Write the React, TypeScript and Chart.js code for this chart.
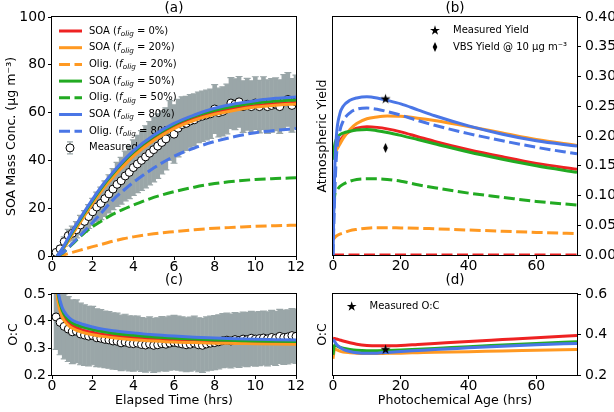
import React, { useEffect, useRef } from 'react';
import { Chart, registerables } from 'chart.js';

Chart.register(...registerables);

// ---------------- Panel (a): SOA mass vs elapsed time ----------------
const timeModel = [0.25, 0.5, 0.75, 1, 1.5, 2, 2.5, 3, 3.5, 4, 5, 6, 7, 8, 9, 10, 11, 12];
const soa0 = [0, 2.8, 6, 9.5, 16, 22.5, 28.5, 33.5, 38.5, 42.5, 49, 54, 57.5, 60, 61.8, 63, 63.8, 64.3];
const soa20 = [0, 2.3, 5.5, 9, 15.5, 22, 28, 33, 37.5, 41.8, 48.3, 53.3, 56.8, 59.3, 61, 62.3, 63.1, 63.6];
const olig20 = [0, 0.3, 0.9, 1.5, 2.7, 3.9, 5, 6.2, 7.2, 8, 9.3, 10.2, 11, 11.6, 12, 12.4, 12.7, 12.9];
const soa50 = [0, 2.8, 6.3, 10, 16.8, 23.3, 29.3, 34.5, 39.3, 43.5, 50, 55, 58.5, 61, 62.8, 64, 64.8, 65.3];
const olig50 = [0, 1, 3, 5, 9, 12.3, 15, 17.5, 19.5, 21.3, 24.5, 26.9, 28.8, 30.3, 31.3, 32, 32.4, 32.7];
const soa80 = [0, 3, 6.8, 10.5, 17.3, 23.8, 29.8, 35, 39.8, 44, 50.5, 55.5, 59, 61.8, 63.7, 65, 66, 66.5];
const olig80 = [0, 1.2, 3, 5.2, 9.5, 14, 18.7, 23.5, 27.3, 30.8, 36.8, 41.7, 45.2, 47.9, 50, 51.6, 52.6, 53.3];

const timeMeas = [0.2, 0.4, 0.6, 0.8, 1.0, 1.2, 1.4, 1.6, 1.8, 2.0, 2.2, 2.4, 2.6, 2.8, 3.0, 3.2, 3.4, 3.6, 3.8, 4.0,
  4.2, 4.4, 4.6, 4.8, 5.0, 5.2, 5.4, 5.6, 5.8, 6.0, 6.2, 6.4, 6.6, 6.8, 7.0, 7.2, 7.4, 7.6, 7.8, 8.0,
  8.2, 8.4, 8.6, 8.8, 9.0, 9.2, 9.4, 9.6, 9.8, 10.0, 10.2, 10.4, 10.6, 10.8, 11.0, 11.2, 11.4, 11.6, 11.8, 12.0];
const soaMeas = [1.5, 3, 6, 8.5, 9.5, 11, 13, 14.5, 16.5, 18.5, 20.5, 22, 24, 26, 28, 30, 31.5, 33.5, 35, 37,
  38.5, 40, 41.5, 43, 44.5, 46, 47.5, 49, 52.5, 51, 53.5, 55, 55.5, 56.5, 57, 58, 58.5, 59, 59.5, 61.5,
  60, 60.5, 61.5, 64, 63.5, 64.5, 62.5, 63.5, 62.5, 64, 62.5, 64, 62.5, 63, 63.5, 62.5, 64.5, 65.5, 63, 64.5];
const soaErr = [0.8, 1.2, 2, 2.6, 3, 3.4, 4, 4.5, 5, 5.6, 6.2, 6.8, 7.4, 8, 8.6, 9.2, 9.8, 10.4, 11, 11.6,
  12, 12.5, 13, 13.2, 13.5, 13.5, 13.2, 13, 12.5, 12.2, 12, 11.6, 11.3, 11, 10.8, 10.6, 10.5, 10.4, 10.3, 10.2,
  10.2, 10.3, 10.4, 10.6, 10.6, 10.6, 10.8, 10.8, 10.8, 11, 11, 11, 11.2, 11.2, 11, 11.2, 11.4, 11.2, 11.2, 11.2];

// ---------------- Panel (c): O:C vs elapsed time ----------------
const timeOC = [0.2, 0.3, 0.5, 0.75, 1, 1.5, 2, 2.5, 3, 4, 5, 6, 7, 8, 9, 10, 11, 12];
const oc0 = [0.55, 0.48, 0.425, 0.397, 0.382, 0.366, 0.357, 0.35, 0.345, 0.338, 0.333, 0.329, 0.326, 0.324, 0.322, 0.321, 0.32, 0.319];
const oc20 = [0.54, 0.47, 0.415, 0.388, 0.373, 0.358, 0.349, 0.343, 0.338, 0.331, 0.326, 0.322, 0.32, 0.318, 0.317, 0.316, 0.315, 0.314];
const oc50 = [0.57, 0.5, 0.44, 0.41, 0.393, 0.378, 0.368, 0.361, 0.355, 0.347, 0.341, 0.337, 0.333, 0.33, 0.328, 0.326, 0.325, 0.324];
const oc80 = [0.58, 0.51, 0.45, 0.42, 0.403, 0.388, 0.378, 0.37, 0.364, 0.356, 0.349, 0.344, 0.34, 0.337, 0.334, 0.332, 0.331, 0.33];
const ocMeas = [0.415, 0.395, 0.38, 0.37, 0.36, 0.362, 0.352, 0.348, 0.344, 0.346, 0.338, 0.336, 0.332, 0.33, 0.326, 0.325, 0.319, 0.322, 0.317, 0.316,
  0.318, 0.313, 0.311, 0.315, 0.31, 0.312, 0.316, 0.314, 0.318, 0.321, 0.318, 0.315, 0.312, 0.314, 0.318, 0.312, 0.31, 0.315, 0.318, 0.32,
  0.323, 0.327, 0.329, 0.326, 0.331, 0.328, 0.333, 0.331, 0.336, 0.333, 0.335, 0.337, 0.334, 0.339, 0.336, 0.343, 0.339, 0.341, 0.346, 0.343];
const ocErr = [0.12, 0.12, 0.12, 0.12, 0.118, 0.116, 0.114, 0.112, 0.11, 0.108, 0.107, 0.106, 0.105, 0.105, 0.104, 0.104, 0.103, 0.103, 0.102, 0.102,
  0.1, 0.1, 0.1, 0.1, 0.1, 0.1, 0.1, 0.1, 0.1, 0.1, 0.1, 0.1, 0.1, 0.1, 0.1, 0.1, 0.1, 0.1, 0.1, 0.1,
  0.1, 0.1, 0.1, 0.1, 0.1, 0.1, 0.1, 0.1, 0.1, 0.1, 0.1, 0.1, 0.1, 0.1, 0.1, 0.1, 0.1, 0.1, 0.1, 0.1];

// ---------------- Panel (b): atmospheric yield vs photochemical age ----------------
const ages = [0, 0.5, 1, 2, 3, 5, 7, 10, 13, 16, 20, 25, 30, 40, 50, 60, 72];
const yld0 = [0.18, 0.18, 0.183, 0.192, 0.199, 0.208, 0.213, 0.2155, 0.2145, 0.212, 0.207, 0.199, 0.191, 0.177, 0.165, 0.154, 0.144];
const yldOlig0 = [0, 0, 0, 0, 0, 0, 0, 0, 0, 0, 0, 0, 0, 0, 0, 0, 0];
const yld20 = [0.17, 0.172, 0.176, 0.186, 0.196, 0.211, 0.221, 0.229, 0.232, 0.2335, 0.233, 0.23, 0.226, 0.216, 0.205, 0.194, 0.184];
const yldOlig20 = [0.026, 0.029, 0.032, 0.035, 0.037, 0.041, 0.043, 0.045, 0.046, 0.046, 0.0455, 0.045, 0.044, 0.042, 0.04, 0.038, 0.036];
const yld50 = [0.16, 0.185, 0.195, 0.202, 0.205, 0.208, 0.21, 0.211, 0.209, 0.206, 0.201, 0.194, 0.187, 0.173, 0.161, 0.15, 0.139];
const yldOlig50 = [0.06, 0.1, 0.107, 0.115, 0.119, 0.124, 0.127, 0.128, 0.128, 0.127, 0.124, 0.118, 0.113, 0.104, 0.097, 0.09, 0.084];
const yld80 = [0, 0.14, 0.2, 0.237, 0.25, 0.26, 0.264, 0.266, 0.264, 0.26, 0.254, 0.244, 0.234, 0.217, 0.203, 0.192, 0.183];
const yldOlig80 = [0, 0.1, 0.165, 0.208, 0.225, 0.239, 0.245, 0.247, 0.245, 0.241, 0.235, 0.226, 0.218, 0.204, 0.192, 0.181, 0.17];
const measAge = [15.5];
const measYield = [0.262];
const vbsYield = [0.18];

// ---------------- Panel (d): O:C vs photochemical age ----------------
const ocAge0 = [0.382, 0.38, 0.378, 0.373, 0.368, 0.359, 0.352, 0.346, 0.344, 0.344, 0.346, 0.351, 0.356, 0.366, 0.375, 0.384, 0.395];
const ocAge20 = [0.28, 0.33, 0.325, 0.318, 0.314, 0.31, 0.307, 0.306, 0.306, 0.307, 0.308, 0.31, 0.312, 0.315, 0.319, 0.322, 0.326];
const ocAge50 = [0.3, 0.35, 0.345, 0.337, 0.332, 0.326, 0.322, 0.32, 0.32, 0.321, 0.323, 0.327, 0.331, 0.34, 0.348, 0.356, 0.364];
const ocAge80 = [0.375, 0.365, 0.352, 0.337, 0.327, 0.316, 0.31, 0.307, 0.308, 0.311, 0.316, 0.321, 0.326, 0.334, 0.342, 0.349, 0.356];
const measOC = [0.325];

// ---------------- styles ----------------
const FAM = '"DejaVu Sans", sans-serif';
const RED = '#ee2222';
const ORANGE = '#ff9922';
const GREEN = '#22aa22';
const BLUE = '#4a76e6';
const ERR_GRAY = '#9aa6a8';
const DASH = [11, 4.5];

Chart.defaults.font.family = FAM;
Chart.defaults.color = '#000';

const tickFont = { family: FAM, size: 14, lineHeight: 1 };
const titleFont = { family: FAM, size: 12.6, lineHeight: 1.2 };
const tickGrid = { display: true, drawOnChartArea: false, drawTicks: true, tickLength: 4, tickColor: '#000', lineWidth: 1 };

function pts(xs: number[], ys: number[]) {
  return xs.map((x, i) => ({ x, y: ys[i] }));
}

function lineDs(prefix: string, pct: number, xs: number[], ys: number[], color: string, dashed: boolean, order: number) {
  return {
    label: prefix, pct, dashedLine: dashed,
    data: pts(xs, ys), borderColor: color, backgroundColor: color, borderWidth: 3,
    borderDash: dashed ? DASH : [], pointRadius: 0, fill: false,
    cubicInterpolationMode: 'monotone', order,
  };
}

function measDs(xs: number[], ys: number[]) {
  return {
    label: 'Measured', data: pts(xs, ys), showLine: false, pointRadius: 4,
    pointBackgroundColor: '#ffffff', pointBorderColor: '#000000', pointBorderWidth: 1, order: 20,
  };
}

function starPath(ctx: CanvasRenderingContext2D, cx: number, cy: number, R: number) {
  ctx.beginPath();
  for (let i = 0; i < 10; i++) {
    const ang = -Math.PI / 2 + (i * Math.PI) / 5;
    const rad = i % 2 === 0 ? R : R * 0.382;
    const px = cx + rad * Math.cos(ang);
    const py = cy + rad * Math.sin(ang);
    if (i === 0) ctx.moveTo(px, py); else ctx.lineTo(px, py);
  }
  ctx.closePath();
}
function diamondPath(ctx: CanvasRenderingContext2D, cx: number, cy: number, hw: number, hh: number) {
  ctx.beginPath();
  ctx.moveTo(cx, cy - hh); ctx.lineTo(cx + hw, cy); ctx.lineTo(cx, cy + hh); ctx.lineTo(cx - hw, cy);
  ctx.closePath();
}
function makeStar(R: number) {
  const c = document.createElement('canvas');
  const s = Math.ceil(2 * R + 2);
  c.width = s; c.height = s;
  const ctx = c.getContext('2d')!;
  starPath(ctx, s / 2, s / 2, R);
  ctx.fillStyle = '#000'; ctx.fill();
  return c;
}
function makeDiamond(hw: number, hh: number) {
  const c = document.createElement('canvas');
  c.width = Math.ceil(2 * hw + 2); c.height = Math.ceil(2 * hh + 2);
  const ctx = c.getContext('2d')!;
  diamondPath(ctx, c.width / 2, c.height / 2, hw, hh);
  ctx.fillStyle = '#000'; ctx.fill();
  return c;
}

// ---------------- plugins ----------------
const framePlugin = {
  id: 'frame',
  afterDatasetsDraw(chart: any) {
    const { ctx, chartArea: a } = chart;
    ctx.save();
    ctx.strokeStyle = '#000'; ctx.lineWidth = 1;
    ctx.strokeRect(Math.round(a.left) - 0.5, Math.round(a.top) - 0.5, Math.round(a.right - a.left) + 1, Math.round(a.bottom - a.top) + 1);
    ctx.restore();
  },
};

function labelPlugin(text: string, y: number) {
  return {
    id: 'panelLabel',
    afterDraw(chart: any) {
      const { ctx, chartArea: a } = chart;
      ctx.save();
      ctx.font = `13.5px ${FAM}`; ctx.fillStyle = '#000';
      ctx.textAlign = 'center'; ctx.textBaseline = 'middle';
      ctx.fillText(text, (a.left + a.right) / 2, y);
      ctx.restore();
    },
  };
}

function errPlugin(xs: number[], ys: number[], es: number[]) {
  return {
    id: 'errbars',
    beforeDatasetsDraw(chart: any) {
      const { ctx, chartArea: a, scales } = chart;
      const sx = scales.x, sy = scales.y;
      ctx.save();
      ctx.beginPath(); ctx.rect(a.left, a.top, a.right - a.left, a.bottom - a.top); ctx.clip();
      ctx.strokeStyle = ERR_GRAY;
      for (let i = 0; i < xs.length; i++) {
        const px = sx.getPixelForValue(xs[i]);
        const yt = sy.getPixelForValue(ys[i] + es[i]);
        const yb = sy.getPixelForValue(ys[i] - es[i]);
        ctx.lineWidth = 4.6;
        ctx.beginPath(); ctx.moveTo(px, yt); ctx.lineTo(px, yb); ctx.stroke();
        ctx.lineWidth = 1.2;
        ctx.beginPath();
        ctx.moveTo(px - 3.5, yt); ctx.lineTo(px + 3.5, yt);
        ctx.moveTo(px - 3.5, yb); ctx.lineTo(px + 3.5, yb);
        ctx.stroke();
      }
      ctx.restore();
    },
  };
}

function drawFLabel(ctx: CanvasRenderingContext2D, x: number, y: number, prefix: string, pct: number) {
  ctx.fillStyle = '#000'; ctx.textAlign = 'left'; ctx.textBaseline = 'middle';
  let s = `${prefix} (`;
  ctx.font = `10px ${FAM}`; ctx.fillText(s, x, y); x += ctx.measureText(s).width;
  ctx.font = `italic 10px ${FAM}`; ctx.fillText('f', x, y); x += ctx.measureText('f').width + 0.3;
  ctx.font = `italic 7.2px ${FAM}`; ctx.fillText('olig', x, y + 3); x += ctx.measureText('olig').width;
  s = ` = ${pct}%)`;
  ctx.font = `10px ${FAM}`; ctx.fillText(s, x, y);
}

const legendAPlugin = {
  id: 'legendA',
  beforeDatasetsDraw(chart: any) {
    const { ctx } = chart;
    const x0 = 59, x1 = 82, tx = 89, y0 = 31, dy = 16.7;
    ctx.save();
    let row = 0;
    chart.data.datasets.forEach((ds: any) => {
      const y = y0 + row * dy;
      if (ds.label === 'Measured') {
        ctx.strokeStyle = ERR_GRAY; ctx.lineWidth = 1.2;
        ctx.beginPath();
        ctx.moveTo(70, y - 6); ctx.lineTo(70, y + 6);
        ctx.moveTo(67, y - 6); ctx.lineTo(73, y - 6);
        ctx.moveTo(67, y + 6); ctx.lineTo(73, y + 6);
        ctx.stroke();
        ctx.beginPath(); ctx.arc(70, y, 4, 0, Math.PI * 2);
        ctx.fillStyle = '#fff'; ctx.fill();
        ctx.strokeStyle = '#000'; ctx.lineWidth = 1; ctx.stroke();
        ctx.fillStyle = '#000'; ctx.font = `10px ${FAM}`; ctx.textAlign = 'left'; ctx.textBaseline = 'middle';
        ctx.fillText('Measured', tx, y);
      } else {
        ctx.strokeStyle = ds.borderColor; ctx.lineWidth = 3;
        ctx.setLineDash(ds.dashedLine ? DASH : []);
        ctx.beginPath(); ctx.moveTo(x0, y); ctx.lineTo(x1, y); ctx.stroke();
        ctx.setLineDash([]);
        drawFLabel(ctx, tx, y, ds.label, ds.pct);
      }
      row++;
    });
    ctx.restore();
  },
};

const legendBPlugin = {
  id: 'legendB',
  afterDraw(chart: any) {
    const { ctx } = chart;
    ctx.save();
    ctx.fillStyle = '#000';
    starPath(ctx, 130, 30.5, 5.2); ctx.fill();
    diamondPath(ctx, 130, 47, 2.3, 5); ctx.fill();
    ctx.font = `10px ${FAM}`; ctx.textAlign = 'left'; ctx.textBaseline = 'middle';
    ctx.fillText('Measured Yield', 148, 30);
    ctx.fillText('VBS Yield @ 10 μg m⁻³', 148, 47);
    ctx.restore();
  },
};

const legendDPlugin = {
  id: 'legendD',
  afterDraw(chart: any) {
    const { ctx } = chart;
    ctx.save();
    ctx.fillStyle = '#000';
    starPath(ctx, 46.7, 38.5, 5.2); ctx.fill();
    ctx.font = `10px ${FAM}`; ctx.textAlign = 'left'; ctx.textBaseline = 'middle';
    ctx.fillText('Measured O:C', 64.5, 38);
    ctx.restore();
  },
};

// ---------------- scale builders ----------------
function xScale(min: number, max: number, step: number, height: number, title?: string) {
  return {
    type: 'linear', min, max,
    ticks: { stepSize: step, includeBounds: false, font: tickFont, color: '#000', padding: 0, maxRotation: 0, autoSkip: false },
    grid: tickGrid, border: { display: false },
    title: title ? { display: true, text: title, font: titleFont, color: '#000', padding: { top: 0, bottom: 3.4 } } : { display: false },
    afterFit: (s: any) => { s.height = height; },
  };
}
function yLeftScale(min: number, max: number, step: number, width: number, title: string, titlePad: number, digits: number) {
  return {
    type: 'linear', position: 'left', min, max,
    ticks: { stepSize: step, includeBounds: false, font: tickFont, color: '#000', padding: 2, callback: (v: number) => v.toFixed(digits) },
    grid: tickGrid, border: { display: false },
    title: { display: true, text: title, font: titleFont, color: '#000', padding: { top: titlePad, bottom: 0 } },
    afterFit: (s: any) => { s.width = width; },
  };
}
function yRightScale(min: number, max: number, step: number, width: number, digits: number) {
  return {
    type: 'linear', position: 'right', min, max,
    ticks: { stepSize: step, includeBounds: false, font: tickFont, color: '#000', padding: 4, callback: (v: number) => v.toFixed(digits) },
    grid: tickGrid, border: { display: false },
    afterFit: (s: any) => { s.width = width; },
  };
}
function yTitleOnly(min: number, max: number, width: number, title: string, titlePad: number) {
  return {
    type: 'linear', position: 'left', min, max,
    ticks: { display: false }, grid: { display: false }, border: { display: false },
    title: { display: true, text: title, font: titleFont, color: '#000', padding: { top: titlePad, bottom: 0 } },
    afterFit: (s: any) => { s.width = width; },
  };
}

const baseOptions = (padding: any) => ({
  responsive: false, animation: false, events: [],
  layout: { padding },
  plugins: { legend: { display: false }, tooltip: { enabled: false }, title: { display: false } },
});

// ---------------- chart configs ----------------
function buildA() {
  return {
    type: 'line',
    data: {
      datasets: [
        lineDs('SOA', 0, timeModel, soa0, RED, false, 7),
        lineDs('SOA', 20, timeModel, soa20, ORANGE, false, 6),
        lineDs('Olig.', 20, timeModel, olig20, ORANGE, true, 5),
        lineDs('SOA', 50, timeModel, soa50, GREEN, false, 4),
        lineDs('Olig.', 50, timeModel, olig50, GREEN, true, 3),
        lineDs('SOA', 80, timeModel, soa80, BLUE, false, 2),
        lineDs('Olig.', 80, timeModel, olig80, BLUE, true, 1),
        measDs(timeMeas, soaMeas),
      ],
    },
    options: {
      ...baseOptions({ top: 17, right: 9, left: 0, bottom: 0 }),
      scales: {
        x: xScale(0, 12, 2, 24),
        y: yLeftScale(0, 100, 20, 52, 'SOA Mass Conc. (μg m⁻³)', 4, 0),
      },
    },
    plugins: [errPlugin(timeMeas, soaMeas, soaErr), legendAPlugin, framePlugin, labelPlugin('(a)', 8)],
  };
}

function buildB() {
  const star = makeStar(5.3);
  const dia = makeDiamond(2.3, 5);
  return {
    type: 'line',
    data: {
      datasets: [
        lineDs('SOA', 0, ages, yld0, RED, false, 8),
        lineDs('Olig.', 0, ages, yldOlig0, RED, true, 7),
        lineDs('SOA', 20, ages, yld20, ORANGE, false, 6),
        lineDs('Olig.', 20, ages, yldOlig20, ORANGE, true, 5),
        lineDs('SOA', 50, ages, yld50, GREEN, false, 4),
        lineDs('Olig.', 50, ages, yldOlig50, GREEN, true, 3),
        lineDs('SOA', 80, ages, yld80, BLUE, false, 2),
        lineDs('Olig.', 80, ages, yldOlig80, BLUE, true, 1),
        { label: 'Measured Yield', data: pts(measAge, measYield), showLine: false, pointStyle: star, pointRadius: 6, order: 0 },
        { label: 'VBS Yield', data: pts(measAge, vbsYield), showLine: false, pointStyle: dia, pointRadius: 6, order: 0 },
      ],
    },
    options: {
      ...baseOptions({ top: 17, right: 0, left: 0, bottom: 0 }),
      scales: {
        x: xScale(0, 72, 20, 25),
        y: yRightScale(0, 0.4, 0.05, 37, 2),
        yl: yTitleOnly(0, 0.4, 28, 'Atmospheric Yield', 10),
      },
    },
    plugins: [framePlugin, legendBPlugin, labelPlugin('(b)', 8)],
  };
}

function buildC() {
  return {
    type: 'line',
    data: {
      datasets: [
        lineDs('SOA', 0, timeOC, oc0, RED, false, 4),
        lineDs('SOA', 20, timeOC, oc20, ORANGE, false, 3),
        lineDs('SOA', 50, timeOC, oc50, GREEN, false, 2),
        lineDs('SOA', 80, timeOC, oc80, BLUE, false, 1),
        measDs(timeMeas, ocMeas),
      ],
    },
    options: {
      ...baseOptions({ top: 26, right: 9, left: 0, bottom: 0 }),
      scales: {
        x: xScale(0, 12, 2, 37, 'Elapsed Time (hrs)'),
        y: yLeftScale(0.2, 0.5, 0.1, 52, 'O:C', 6.4, 1),
      },
    },
    plugins: [errPlugin(timeMeas, ocMeas, ocErr), framePlugin, labelPlugin('(c)', 12)],
  };
}

function buildD() {
  const star = makeStar(5.3);
  return {
    type: 'line',
    data: {
      datasets: [
        lineDs('SOA', 0, ages, ocAge0, RED, false, 4),
        lineDs('SOA', 20, ages, ocAge20, ORANGE, false, 3),
        lineDs('SOA', 50, ages, ocAge50, GREEN, false, 2),
        lineDs('SOA', 80, ages, ocAge80, BLUE, false, 1),
        { label: 'Measured O:C', data: pts(measAge, measOC), showLine: false, pointStyle: star, pointRadius: 6, order: 0 },
      ],
    },
    options: {
      ...baseOptions({ top: 26, right: 0, left: 0, bottom: 0 }),
      scales: {
        x: xScale(0, 72, 20, 37, 'Photochemical Age (hrs)'),
        y: yRightScale(0.2, 0.6, 0.2, 37, 1),
        yl: yTitleOnly(0.2, 0.6, 28, 'O:C', 10),
      },
    },
    plugins: [framePlugin, legendDPlugin, labelPlugin('(d)', 12)],
  };
}

function Panel(props: { left: number; top: number; width: number; height: number; build: () => any }) {
  const ref = useRef<HTMLCanvasElement>(null);
  useEffect(() => {
    const chart = new Chart(ref.current as HTMLCanvasElement, props.build());
    return () => chart.destroy();
  }, []);
  return (
    <canvas
      ref={ref}
      width={props.width}
      height={props.height}
      style={{ position: 'absolute', left: props.left, top: props.top, width: props.width, height: props.height }}
    />
  );
}

export default function App() {
  return (
    <div style={{ position: 'absolute', left: 0, top: 0, width: 614, height: 412, background: '#fff', overflow: 'hidden' }}>
      <Panel left={0} top={0} width={305} height={280} build={buildA} />
      <Panel left={305} top={0} width={309} height={280} build={buildB} />
      <Panel left={0} top={268} width={305} height={144} build={buildC} />
      <Panel left={305} top={268} width={309} height={144} build={buildD} />
    </div>
  );
}
